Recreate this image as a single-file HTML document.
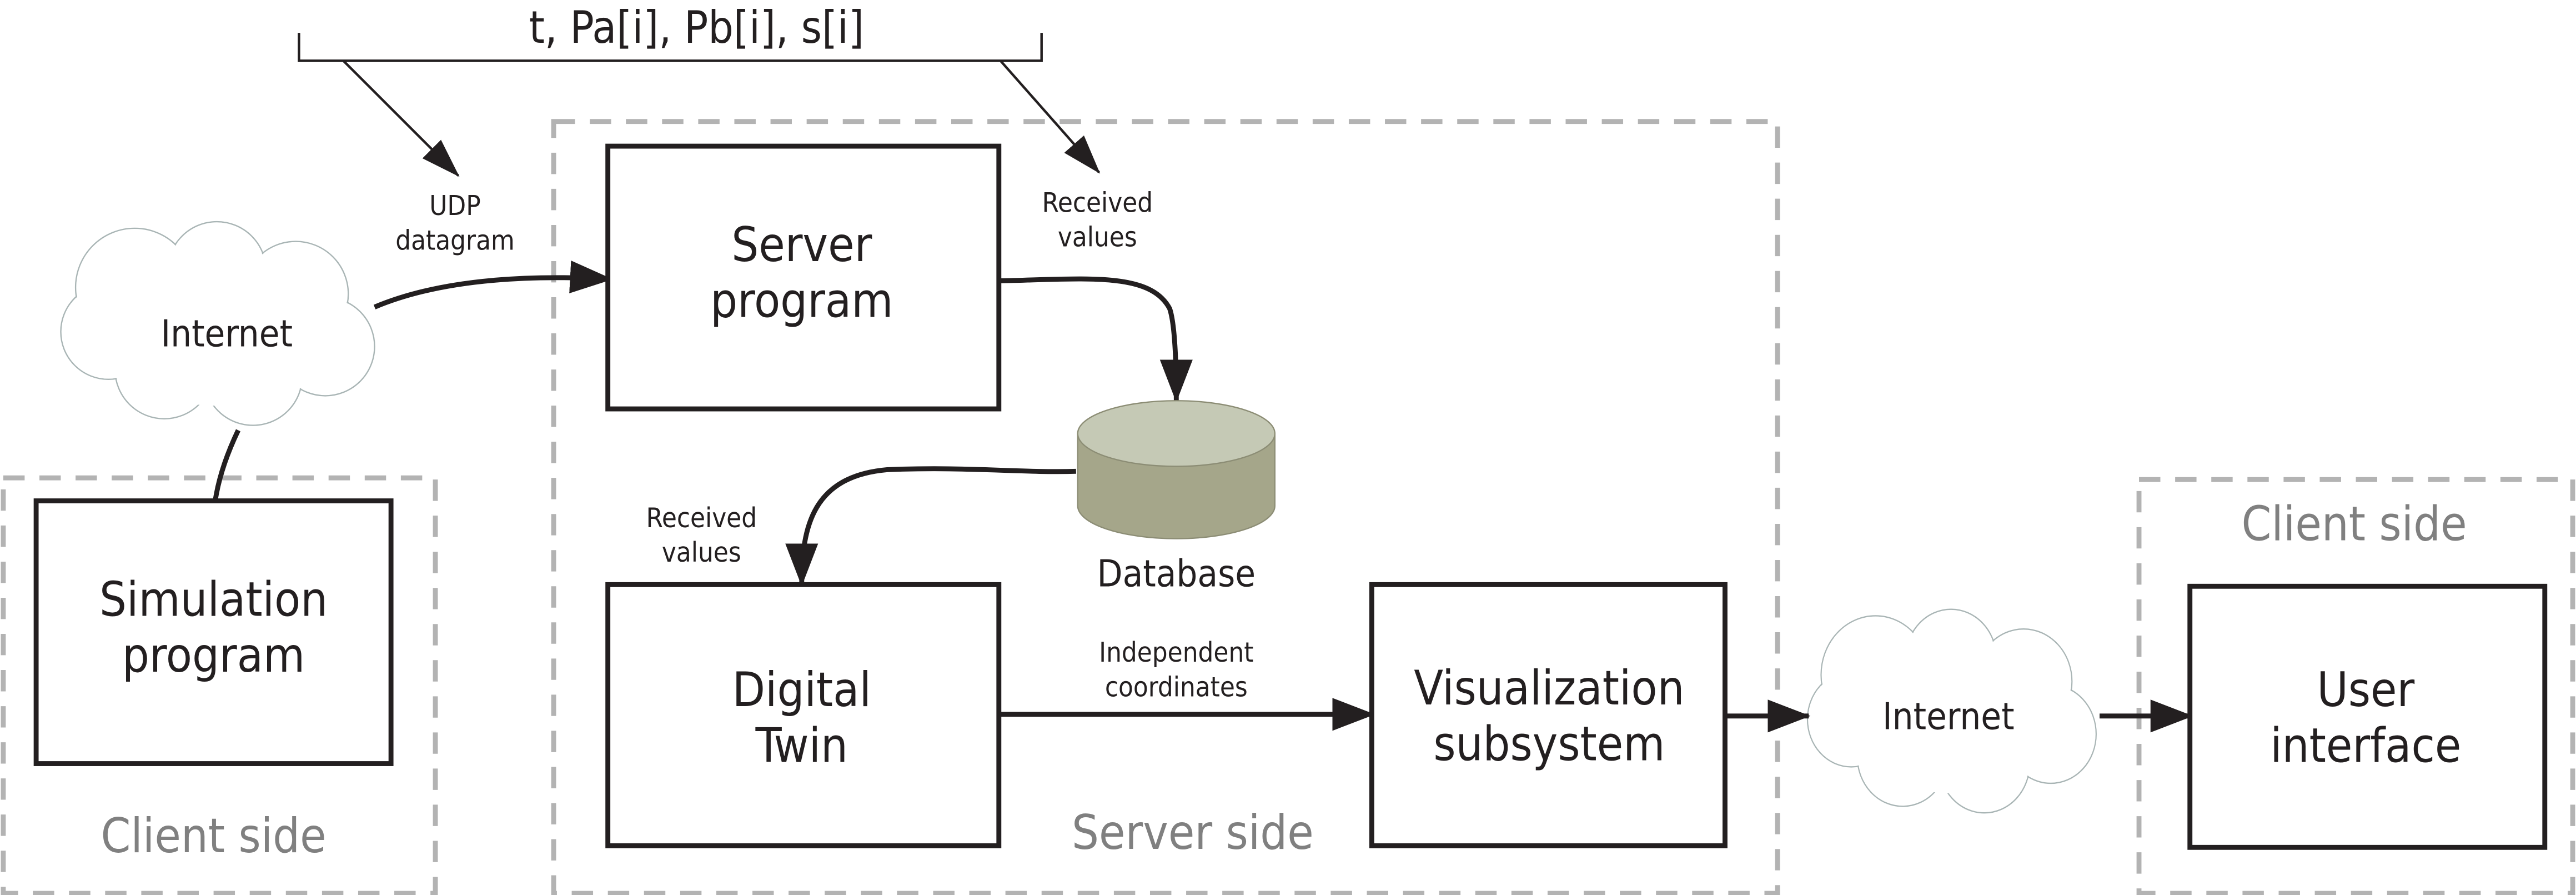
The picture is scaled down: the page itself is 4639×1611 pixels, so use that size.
<!DOCTYPE html>
<html><head><meta charset="utf-8"><style>
html,body{margin:0;padding:0;background:#fff}
svg{display:block}
text{font-family:"DejaVu Sans Condensed","DejaVu Sans","Liberation Sans",sans-serif;text-anchor:middle}
</style></head><body>
<svg width="4639" height="1611" viewBox="0 0 1568 545" preserveAspectRatio="none" xmlns="http://www.w3.org/2000/svg">
<defs>
<marker id="big" markerUnits="userSpaceOnUse" markerWidth="26" markerHeight="20" refX="25" refY="10" orient="auto"><path d="M0,0 L26,10 L0,20 Z" fill="#231f20"/></marker>
<marker id="sm" markerUnits="userSpaceOnUse" markerWidth="24" markerHeight="16" refX="23" refY="8" orient="auto"><path d="M0,0 L24,8 L0,16 Z" fill="#231f20"/></marker>
<g id="cloud">
<g fill="none" stroke="#a9b5b5" stroke-width="0.8">
<circle cx="80" cy="178" r="36"/><circle cx="130" cy="168" r="30"/><circle cx="178" cy="182" r="32"/><circle cx="196" cy="214" r="30"/><circle cx="152" cy="232" r="30"/><circle cx="98" cy="228" r="30"/><circle cx="64" cy="205" r="29"/>
</g>
<g fill="#fff">
<circle cx="80" cy="178" r="35.5"/><circle cx="130" cy="168" r="29.5"/><circle cx="178" cy="182" r="31.5"/><circle cx="196" cy="214" r="29.5"/><circle cx="152" cy="232" r="29.5"/><circle cx="98" cy="228" r="29.5"/><circle cx="64" cy="205" r="28.5"/><ellipse cx="130" cy="205" rx="70" ry="45"/>
</g>
</g>
</defs>
<rect width="1568" height="545" fill="#fff"/>
<g fill="none" stroke="#b3b3b3" stroke-width="3" stroke-dasharray="13,9">
<rect x="337" y="74" width="745" height="470"/>
<rect x="2" y="291" width="263" height="253"/>
<rect x="1302" y="292" width="264" height="252"/>
</g>
<path d="M182,20 V37 H634 V20" fill="none" stroke="#231f20" stroke-width="1.5"/>
<text x="424" y="26" font-size="27" fill="#231f20">t, Pa[i], Pb[i], s[i]</text>
<line x1="209" y1="37" x2="279" y2="107" stroke="#231f20" stroke-width="1.5" marker-end="url(#sm)"/>
<line x1="609" y1="37" x2="669" y2="105" stroke="#231f20" stroke-width="1.5" marker-end="url(#sm)"/>
<g font-size="16.5" fill="#231f20">
<text x="277" y="131">UDP</text><text x="277" y="152">datagram</text>
<text x="668" y="129">Received</text><text x="668" y="150">values</text>
<text x="427" y="321">Received</text><text x="427" y="342">values</text>
<text x="716" y="403">Independent</text><text x="716" y="424">coordinates</text>
</g>
<use href="#cloud" transform="translate(2,-3)"/>
<use href="#cloud" transform="translate(1068,233) scale(0.92,1)" />
<g fill="none" stroke="#231f20" stroke-width="3">
<path d="M228,187 Q280,165 372,170" marker-end="url(#big)"/>
<path d="M145,262 Q134,285 131,305"/>
<path d="M608,171 C660,170 700,165 712,188 Q716,200 716,244" marker-end="url(#big)"/>
<path d="M655,287 C620,288 590,284 540,286 C495,290 488,320 488,356" marker-end="url(#big)"/>
<path d="M608,435 H836" marker-end="url(#big)"/>
<path d="M1050,436 H1101" marker-end="url(#big)"/>
<path d="M1278,436 H1334" marker-end="url(#big)"/>
</g>
<g fill="#fff" stroke="#231f20" stroke-width="3">
<rect x="370" y="89" width="238" height="160"/>
<rect x="22" y="305" width="216" height="160"/>
<rect x="370" y="356" width="238" height="159"/>
<rect x="835" y="356" width="215" height="159"/>
<rect x="1333" y="357" width="216" height="159"/>
</g>
<path d="M656,264 V308 A60,20 0 0 0 776,308 V264 Z" fill="#a5a68a" stroke="#8c8d75" stroke-width="0.8"/>
<ellipse cx="716" cy="264" rx="60" ry="20" fill="#c5c9b5" stroke="#8c8d75" stroke-width="0.8"/>
<g font-size="29" fill="#231f20">
<text x="488" y="159">Server</text><text x="488" y="193">program</text>
<text x="130" y="375">Simulation</text><text x="130" y="409">program</text>
<text x="488" y="430">Digital</text><text x="488" y="464">Twin</text>
<text x="943" y="429">Visualization</text><text x="943" y="463">subsystem</text>
<text x="1440" y="430">User</text><text x="1440" y="464">interface</text>
</g>
<g font-size="22.5" fill="#231f20">
<text x="138" y="211">Internet</text>
<text x="1186" y="444">Internet</text>
<text x="716" y="357">Database</text>
</g>
<g font-size="29" fill="#808080">
<text x="130" y="519">Client side</text>
<text x="726" y="517">Server side</text>
<text x="1433" y="329">Client side</text>
</g>
</svg>
</body></html>
